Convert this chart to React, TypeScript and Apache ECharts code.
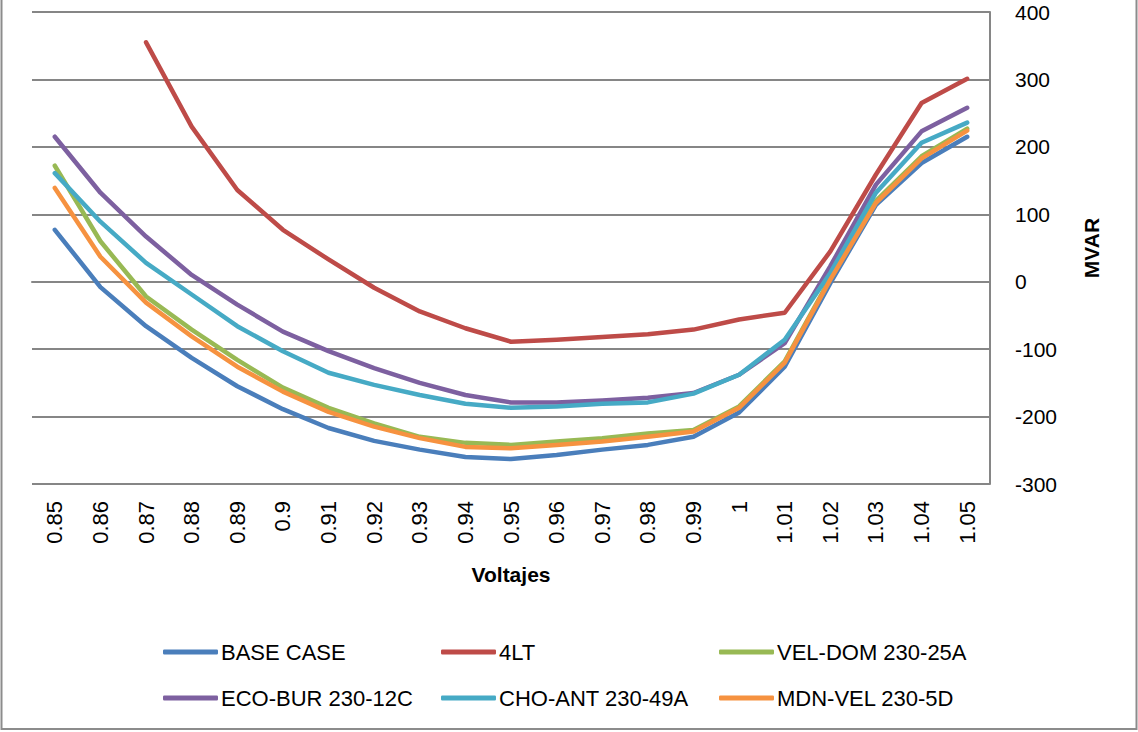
import React, { useEffect, useRef } from "react";
import * as echarts from "echarts";

const categories = ["0.85","0.86","0.87","0.88","0.89","0.9","0.91","0.92","0.93","0.94","0.95","0.96","0.97","0.98","0.99","1","1.01","1.02","1.03","1.04","1.05"];

const baseCase = [77, -8, -66, -113, -155, -189, -217, -236, -249, -260, -263, -257, -249, -242, -230, -194, -126, -2, 114, 176, 215];
const lt4 = [null, null, 355, 230, 136, 77, 33, -9, -44, -69, -89, -86, -82, -78, -71, -56, -46, 45, 159, 265, 301];
const velDom = [172, 60, -22, -71, -116, -157, -187, -210, -230, -239, -242, -237, -232, -225, -220, -185, -118, 5, 120, 186, 227];
const ecoBur = [215, 132, 67, 10, -34, -74, -103, -128, -150, -168, -179, -179, -176, -172, -165, -138, -91, 23, 144, 223, 258];
const choAnt = [161, 89, 28, -19, -66, -103, -135, -153, -168, -181, -187, -185, -181, -179, -166, -138, -86, 13, 132, 206, 236];
const mdnVel = [139, 37, -31, -81, -126, -163, -193, -215, -232, -245, -247, -242, -237, -230, -222, -187, -120, 3, 117, 183, 224];

const seriesNames = ["BASE CASE", "4LT", "VEL-DOM 230-25A", "ECO-BUR 230-12C", "CHO-ANT 230-49A", "MDN-VEL 230-5D"];
const seriesData = [baseCase, lt4, velDom, ecoBur, choAnt, mdnVel];
const colors = ["#4A7EBB", "#BE4B48", "#98B954", "#7D60A0", "#46AAC5", "#F69240"];
const yTicks = { min: -300, max: 400, interval: 100 };

const FONT = "'Liberation Sans', Arial, sans-serif";
const GRID_COLOR = "#868686";

export default function App() {
  const ref = useRef<HTMLDivElement>(null);
  useEffect(() => {
    if (!ref.current) return;
    const chart = echarts.init(ref.current, null, { renderer: "svg" });
    const legendPos = [
      { left: 158, top: 636 },
      { left: 436, top: 636 },
      { left: 714, top: 636 },
      { left: 158, top: 682 },
      { left: 436, top: 682 },
      { left: 714, top: 682 },
    ];
    chart.setOption({
      animation: false,
      backgroundColor: "#ffffff",
      textStyle: { fontFamily: FONT },
      grid: { left: 32, top: 12, width: 958, height: 472, containLabel: false },
      xAxis: {
        type: "category",
        data: categories,
        boundaryGap: true,
        name: "Voltajes",
        nameLocation: "middle",
        nameGap: 80,
        nameTextStyle: { fontSize: 21, fontWeight: "bold", color: "#000", fontFamily: FONT },
        axisLine: { show: true, lineStyle: { color: GRID_COLOR, width: 2 } },
        axisTick: { show: false },
        axisLabel: { rotate: 90, fontSize: 22, color: "#000", margin: 17, fontFamily: FONT, interval: 0 },
        splitLine: { show: false },
      },
      yAxis: {
        type: "value",
        position: "right",
        min: yTicks.min,
        max: yTicks.max,
        interval: yTicks.interval,
        name: "MVAR",
        nameLocation: "middle",
        nameRotate: 90,
        nameGap: 91,
        nameTextStyle: { fontSize: 21, fontWeight: "bold", color: "#000", fontFamily: FONT },
        axisLine: { show: true, lineStyle: { color: GRID_COLOR, width: 2 } },
        axisTick: { show: false },
        axisLabel: { fontSize: 21, color: "#000", margin: 25, fontFamily: FONT },
        splitLine: { show: true, lineStyle: { color: GRID_COLOR, width: 2 } },
      },
      legend: seriesNames.map((n, i) => ({
        data: [n],
        left: legendPos[i].left,
        top: legendPos[i].top,
        icon: "roundRect",
        itemWidth: 55,
        itemHeight: 5,
        textStyle: { fontSize: 22, color: "#000", fontFamily: FONT, padding: [0, 0, 0, -2] },
        selectedMode: false,
      })),
      series: seriesNames.map((n, i) => ({
        name: n,
        type: "line",
        data: seriesData[i],
        showSymbol: false,
        symbol: "none",
        connectNulls: false,
        lineStyle: { color: colors[i], width: 4.5, cap: "round", join: "round" },
        itemStyle: { color: colors[i] },
      })),
      graphic: [
        {
          type: "rect",
          shape: { x: 1.5, y: -5, width: 1135, height: 734 },
          style: { fill: "none", stroke: "#8c8c8c", lineWidth: 2 },
          silent: true,
          z: 100,
        },
      ],
    });
    return () => chart.dispose();
  }, []);
  return <div ref={ref} style={{ width: 1138, height: 732, position: "absolute", left: 0, top: 0 }} />;
}
